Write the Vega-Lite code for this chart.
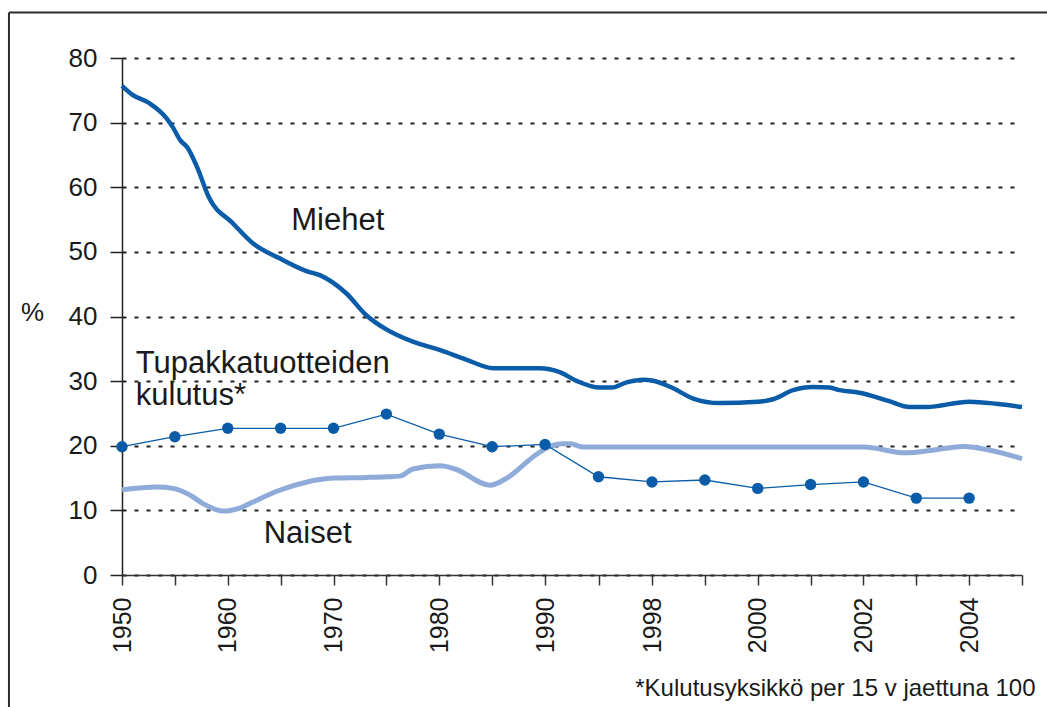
{
  "$schema": "https://vega.github.io/schema/vega-lite/v6.json",
  "width": 900,
  "height": 517,
  "autosize": "none",
  "padding": {"left": 122, "top": 58, "right": 25, "bottom": 132},
  "background": "white",
  "config": {
    "view": {"stroke": null},
    "font": "Liberation Sans",
    "axis": {"labelFont": "Liberation Sans", "titleFont": "Liberation Sans", "labelColor": "#1a1a1a", "titleColor": "#1a1a1a", "titleFontWeight": "normal"}
  },
  "datasets": {
    "sarjat": [
      {"sarja": "Miehet", "vuosi": 1950, "arvo": 75.7},
      {"sarja": "Miehet", "vuosi": 1951, "arvo": 74.3},
      {"sarja": "Miehet", "vuosi": 1952.6, "arvo": 73.0},
      {"sarja": "Miehet", "vuosi": 1954.2, "arvo": 70.7},
      {"sarja": "Miehet", "vuosi": 1954.8, "arvo": 69.3},
      {"sarja": "Miehet", "vuosi": 1955.5, "arvo": 67.3},
      {"sarja": "Miehet", "vuosi": 1956.2, "arvo": 66.1},
      {"sarja": "Miehet", "vuosi": 1957.1, "arvo": 63.1},
      {"sarja": "Miehet", "vuosi": 1958.2, "arvo": 58.5},
      {"sarja": "Miehet", "vuosi": 1960.5, "arvo": 54.4},
      {"sarja": "Miehet", "vuosi": 1962.4, "arvo": 51.3},
      {"sarja": "Miehet", "vuosi": 1964.9, "arvo": 49.0},
      {"sarja": "Miehet", "vuosi": 1967.5, "arvo": 47.0},
      {"sarja": "Miehet", "vuosi": 1968.7, "arvo": 46.4},
      {"sarja": "Miehet", "vuosi": 1971.2, "arvo": 43.6},
      {"sarja": "Miehet", "vuosi": 1973.1, "arvo": 40.2},
      {"sarja": "Miehet", "vuosi": 1975.0, "arvo": 38.0},
      {"sarja": "Miehet", "vuosi": 1977.5, "arvo": 36.1},
      {"sarja": "Miehet", "vuosi": 1980.1, "arvo": 34.8},
      {"sarja": "Miehet", "vuosi": 1982.6, "arvo": 33.3},
      {"sarja": "Miehet", "vuosi": 1985.1, "arvo": 32.0},
      {"sarja": "Miehet", "vuosi": 1989.5, "arvo": 32.0},
      {"sarja": "Miehet", "vuosi": 1991.1, "arvo": 31.4},
      {"sarja": "Miehet", "vuosi": 1992.4, "arvo": 30.0},
      {"sarja": "Miehet", "vuosi": 1994.1, "arvo": 29.0},
      {"sarja": "Miehet", "vuosi": 1995.0, "arvo": 29.0},
      {"sarja": "Miehet", "vuosi": 1996.1, "arvo": 29.8},
      {"sarja": "Miehet", "vuosi": 1997.35, "arvo": 30.2},
      {"sarja": "Miehet", "vuosi": 1998.0, "arvo": 30.1},
      {"sarja": "Miehet", "vuosi": 1998.4, "arvo": 28.9},
      {"sarja": "Miehet", "vuosi": 1998.78, "arvo": 27.3},
      {"sarja": "Miehet", "vuosi": 1999.28, "arvo": 26.6},
      {"sarja": "Miehet", "vuosi": 2000.0, "arvo": 26.8},
      {"sarja": "Miehet", "vuosi": 2000.29, "arvo": 27.2},
      {"sarja": "Miehet", "vuosi": 2000.67, "arvo": 28.6},
      {"sarja": "Miehet", "vuosi": 2001.04, "arvo": 29.1},
      {"sarja": "Miehet", "vuosi": 2001.36, "arvo": 29.0},
      {"sarja": "Miehet", "vuosi": 2001.55, "arvo": 28.6},
      {"sarja": "Miehet", "vuosi": 2001.92, "arvo": 28.2},
      {"sarja": "Miehet", "vuosi": 2002.49, "arvo": 26.9},
      {"sarja": "Miehet", "vuosi": 2002.87, "arvo": 26.0},
      {"sarja": "Miehet", "vuosi": 2003.19, "arvo": 26.0},
      {"sarja": "Miehet", "vuosi": 2004.0, "arvo": 26.8},
      {"sarja": "Miehet", "vuosi": 2004.51, "arvo": 26.5},
      {"sarja": "Miehet", "vuosi": 2005.0, "arvo": 26.0},
      {"sarja": "Naiset", "vuosi": 1950, "arvo": 13.2},
      {"sarja": "Naiset", "vuosi": 1953.3, "arvo": 13.6},
      {"sarja": "Naiset", "vuosi": 1954.8, "arvo": 13.4},
      {"sarja": "Naiset", "vuosi": 1956.4, "arvo": 12.4},
      {"sarja": "Naiset", "vuosi": 1957.7, "arvo": 11.0},
      {"sarja": "Naiset", "vuosi": 1959.6, "arvo": 9.9},
      {"sarja": "Naiset", "vuosi": 1961.2, "arvo": 10.4},
      {"sarja": "Naiset", "vuosi": 1962.4, "arvo": 11.3},
      {"sarja": "Naiset", "vuosi": 1964.7, "arvo": 13.0},
      {"sarja": "Naiset", "vuosi": 1967.5, "arvo": 14.4},
      {"sarja": "Naiset", "vuosi": 1970.0, "arvo": 15.0},
      {"sarja": "Naiset", "vuosi": 1973.2, "arvo": 15.1},
      {"sarja": "Naiset", "vuosi": 1975.1, "arvo": 15.2},
      {"sarja": "Naiset", "vuosi": 1976.3, "arvo": 15.3},
      {"sarja": "Naiset", "vuosi": 1977.5, "arvo": 16.4},
      {"sarja": "Naiset", "vuosi": 1980.1, "arvo": 16.9},
      {"sarja": "Naiset", "vuosi": 1981.5, "arvo": 16.4},
      {"sarja": "Naiset", "vuosi": 1984.8, "arvo": 13.9},
      {"sarja": "Naiset", "vuosi": 1986.4, "arvo": 15.0},
      {"sarja": "Naiset", "vuosi": 1988.9, "arvo": 18.3},
      {"sarja": "Naiset", "vuosi": 1990.15, "arvo": 19.7},
      {"sarja": "Naiset", "vuosi": 1991.35, "arvo": 20.3},
      {"sarja": "Naiset", "vuosi": 1991.9, "arvo": 20.3},
      {"sarja": "Naiset", "vuosi": 1992.8, "arvo": 19.8},
      {"sarja": "Naiset", "vuosi": 2002.0, "arvo": 19.8},
      {"sarja": "Naiset", "vuosi": 2002.8, "arvo": 18.9},
      {"sarja": "Naiset", "vuosi": 2003.3, "arvo": 19.3},
      {"sarja": "Naiset", "vuosi": 2003.9, "arvo": 19.9},
      {"sarja": "Naiset", "vuosi": 2004.4, "arvo": 19.3},
      {"sarja": "Naiset", "vuosi": 2005.0, "arvo": 18.0}
    ],
    "kulutus": [
      {"vuosi": 1950, "arvo": 19.85},
      {"vuosi": 1955, "arvo": 21.4},
      {"vuosi": 1960, "arvo": 22.7},
      {"vuosi": 1965, "arvo": 22.7},
      {"vuosi": 1970, "arvo": 22.7},
      {"vuosi": 1975, "arvo": 24.9},
      {"vuosi": 1980, "arvo": 21.8},
      {"vuosi": 1985, "arvo": 19.85},
      {"vuosi": 1990, "arvo": 20.2},
      {"vuosi": 1994, "arvo": 15.2},
      {"vuosi": 1998, "arvo": 14.4},
      {"vuosi": 1999, "arvo": 14.7},
      {"vuosi": 2000, "arvo": 13.4},
      {"vuosi": 2001, "arvo": 14.0},
      {"vuosi": 2002, "arvo": 14.4},
      {"vuosi": 2003, "arvo": 11.9},
      {"vuosi": 2004, "arvo": 11.9}
    ],
    "tekstit": [
      {"teksti": "Miehet", "vuosi": 1966.0, "arvo": 53.4},
      {"teksti": "Tupakkatuotteiden", "vuosi": 1951.3, "arvo": 31.2},
      {"teksti": "kulutus*", "vuosi": 1951.3, "arvo": 26.3},
      {"teksti": "Naiset", "vuosi": 1963.4, "arvo": 4.9}
    ],
    "kehys": [{"x1": 1939.31, "x2": 2007, "y1": 87.05, "y2": -21}]
  },
  "encoding": {
    "x": {
      "field": "vuosi",
      "type": "quantitative",
      "scale": {"domain": [1950, 1990, 1998, 2005], "range": [0, 423, 530, 900], "nice": false, "zero": false},
      "axis": {
        "values": [1950, 1955, 1960, 1965, 1970, 1975, 1980, 1985, 1990, 1994, 1998, 1999, 2000, 2001, 2002, 2003, 2004, 2005],
        "format": "d",
        "labelExpr": "indexof([1950,1960,1970,1980,1990,1998,2000,2002,2004], datum.value) >= 0 ? datum.label : ''",
        "labelAngle": -90,
        "labelFontSize": 25,
        "labelPadding": 12,
        "labelOverlap": false,
        "labelFlush": false,
        "tickSize": 10,
        "tickColor": "#333333",
        "tickWidth": 1.5,
        "domainColor": "#333333",
        "domainWidth": 1.5,
        "grid": false,
        "title": "*Kulutusyksikkö per 15 v jaettuna 100",
        "titleFontSize": 24,
        "titleAnchor": "end",
        "titleAlign": "right",
        "titleBaseline": "alphabetic",
        "titleX": 913,
        "titleY": 120
      }
    },
    "y": {
      "field": "arvo",
      "type": "quantitative",
      "scale": {"domain": [0, 80], "nice": false},
      "axis": {
        "values": [0, 10, 20, 30, 40, 50, 60, 70, 80],
        "labelFontSize": 26,
        "labelPadding": 13,
        "tickSize": 12,
        "tickColor": "#222222",
        "tickWidth": 1.5,
        "domainColor": "#222222",
        "domainWidth": 1.5,
        "grid": true,
        "gridDash": [4, 8],
        "gridColor": "#222222",
        "gridWidth": 2,
        "title": "%",
        "titleAngle": 0,
        "titleFontSize": 26,
        "titleAlign": "center",
        "titleBaseline": "middle",
        "titleX": -90,
        "titleY": 254
      }
    }
  },
  "layer": [
    {
      "data": {"name": "sarjat"},
      "transform": [{"filter": "datum.sarja === 'Naiset'"}],
      "mark": {"type": "line", "color": "#8eabd9", "strokeWidth": 5, "interpolate": "monotone"}
    },
    {
      "data": {"name": "sarjat"},
      "transform": [{"filter": "datum.sarja === 'Miehet'"}],
      "mark": {"type": "line", "color": "#0b5ca8", "strokeWidth": 4.5, "interpolate": "monotone"}
    },
    {
      "data": {"name": "kulutus"},
      "mark": {"type": "line", "color": "#0b5ca8", "strokeWidth": 1.3}
    },
    {
      "data": {"name": "kulutus"},
      "mark": {"type": "point", "filled": true, "opacity": 1, "color": "#0b5ca8", "size": 130}
    },
    {
      "data": {"name": "tekstit"},
      "mark": {"type": "text", "align": "left", "baseline": "alphabetic", "fontSize": 31, "font": "Liberation Sans", "color": "#1a1a1a"},
      "encoding": {"text": {"field": "teksti", "type": "nominal"}}
    },
    {
      "data": {"name": "kehys"},
      "mark": {"type": "rule", "color": "#2b2b2b", "strokeWidth": 2},
      "encoding": {
        "x": {"field": "x1", "type": "quantitative"},
        "x2": {"field": "x2"},
        "y": {"field": "y1", "type": "quantitative"}
      }
    },
    {
      "data": {"name": "kehys"},
      "mark": {"type": "rule", "color": "#2b2b2b", "strokeWidth": 2},
      "encoding": {
        "x": {"field": "x1", "type": "quantitative"},
        "y": {"field": "y1", "type": "quantitative"},
        "y2": {"field": "y2"}
      }
    }
  ]
}
